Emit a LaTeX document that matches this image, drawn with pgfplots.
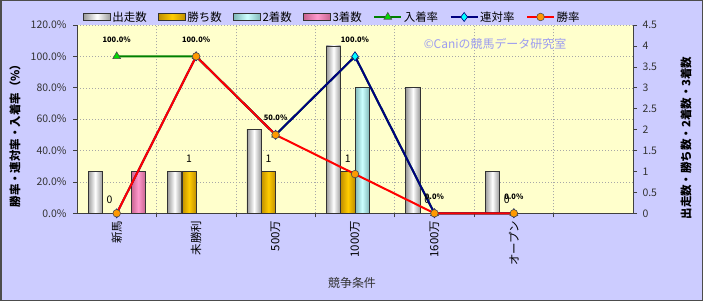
\documentclass[border=0pt]{standalone}
\usepackage{fontspec}
\setmainfont{Noto Sans CJK JP}
\usepackage{pgfplots}
\pgfplotsset{compat=1.18}
\definecolor{outerbg}{HTML}{CCCCFF}
\definecolor{plotbg}{HTML}{FFFFCC}
\definecolor{gridc}{HTML}{A8A8A8}
\definecolor{runE}{HTML}{9A9A9A}
\definecolor{winC}{HTML}{FFCC00}
\definecolor{winE}{HTML}{C08F00}
\definecolor{secC}{HTML}{CCFFFF}
\definecolor{secE}{HTML}{80B8B8}
\definecolor{thiC}{HTML}{FF99CC}
\definecolor{thiE}{HTML}{C8638F}
\definecolor{placeL}{HTML}{008000}
\definecolor{placeM}{HTML}{00DD00}
\definecolor{rentL}{HTML}{000080}
\definecolor{rentM}{HTML}{00FFFF}
\definecolor{winL}{HTML}{FF0000}
\definecolor{winM}{HTML}{FF9900}
\definecolor{wmark}{HTML}{9C9CF0}
\pgfplotsset{
  /pgf/number format/assume math mode=true,
  barleg/.style={legend image code/.code={\draw[##1] (0bp,-3.5bp) rectangle (27bp,3.5bp);}},
  lineleg/.style={legend image code/.code={\draw[mark repeat=2,mark phase=2,##1] plot coordinates {(0bp,0bp) (13.5bp,0bp) (27bp,0bp)};}},
  common/.style={at={(77bp,87.7bp)}, anchor=south west, scale only axis,
    width=556bp, height=188.3bp, xmin=-0.5, xmax=6.5},
  runsty/.style={draw=black!80, line width=0.7bp, left color=runE, right color=runE, middle color=white},
  winsty/.style={draw=black!80, line width=0.7bp, left color=winE, right color=winE, middle color=winC},
  secsty/.style={draw=black!80, line width=0.7bp, left color=secE, right color=secE, middle color=secC},
  thisty/.style={draw=black!80, line width=0.7bp, left color=thiE, right color=thiE, middle color=thiC},
  runbar/.style={ybar, bar width=0.18, bar shift=-0.271, runsty},
  winbar/.style={ybar, bar width=0.18, bar shift=-0.090, winsty},
  secbar/.style={ybar, bar width=0.18, bar shift=0.090, secsty},
  thibar/.style={ybar, bar width=0.18, bar shift=0.271, thisty},
}
\begin{document}
\begin{tikzpicture}[x=1bp,y=1bp]
\useasboundingbox (0,0) rectangle (703,301);
\fill[outerbg] (0,0) rectangle (703,301);

% axis A: background, grid, left axis, category axis
\begin{axis}[common,
  ymin=0, ymax=120,
  axis background/.style={fill=plotbg},
  axis x line*=bottom, axis y line*=left,
  axis line style={draw=black!75, line width=0.8bp},
  tick align=outside, major tick length=4bp, minor tick length=4bp,
  tick style={draw=black!75, line width=0.6bp},
  xtick={0,1,2,3,4,5},
  xticklabels={新馬,未勝利,500万,1000万,1600万,オープン},
  major x tick style={draw=none},
  minor xtick={0.5,1.5,2.5,3.5,4.5,5.5},
  xminorgrids,
  minor x grid style={draw=gridc, line width=0.5bp, dash pattern=on 1bp off 2bp},
  ytick={0,20,40,60,80,100,120},
  ymajorgrids,
  major y grid style={draw=gridc, line width=0.5bp, dash pattern=on 1bp off 2bp},
  yticklabel={\pgfmathprintnumber[fixed,fixed zerofill,precision=1]{\tick}\%},
  y tick label style={font=\fontsize{10.5}{12}\selectfont, text=black!80, xshift=-3bp},
  x tick label style={font=\fontsize{11.5}{13}\selectfont, rotate=90, anchor=east, text=black},
]
\addplot[draw=none] coordinates {(0,0)};
\end{axis}

\node[text=wmark, font=\fontsize{12}{14}\selectfont] at (495,257) {©Caniの競馬データ研究室};

% axis B: bars on the right axis (one plot per bar, so each bar is shaded on its own)
\begin{axis}[common,
  ymin=0, ymax=4.5,
  axis x line=none, axis y line*=right,
  axis line style={draw=black!75, line width=0.8bp},
  tick align=outside, major tick length=4bp,
  tick style={draw=black!75, line width=0.6bp},
  ytick={0,0.5,1,1.5,2,2.5,3,3.5,4,4.5},
  yticklabels={0,0.5,1,1.5,2,2.5,3,3.5,4,4.5},
  y tick label style={font=\fontsize{10.5}{12}\selectfont, text=black!80, xshift=2bp},
]
% 出走数
\addplot[runbar] coordinates {(0,1)};
\addplot[runbar] coordinates {(1,1)};
\addplot[runbar] coordinates {(2,2)};
\addplot[runbar] coordinates {(3,4)};
\addplot[runbar] coordinates {(4,3)};
\addplot[runbar] coordinates {(5,1)};
% 勝ち数 (新馬, 1600万, オープン: 0)
\addplot[winbar] coordinates {(1,1)};
\addplot[winbar] coordinates {(2,1)};
\addplot[winbar] coordinates {(3,1)};
% 2着数
\addplot[secbar] coordinates {(3,3)};
% 3着数
\addplot[thibar] coordinates {(0,1)};
% 勝ち数 labels
\addplot[only marks, mark=none, nodes near coords,
  every node near coord/.append style={font=\fontsize{10.5}{12}\selectfont, text=black, inner sep=0pt, anchor=south, yshift=9bp}]
  coordinates {(-0.09,0) (0.91,1) (1.91,1) (2.91,1) (3.91,0) (4.91,0)};
\end{axis}

% axis C: rate lines on the left axis, legend
\begin{axis}[common,
  ymin=0, ymax=120, hide axis, clip=false,
  legend style={at={(0.0108,1.0425)}, anchor=west, draw=none, fill=none,
    inner sep=0pt, font=\fontsize{11.5}{13}\selectfont, legend columns=-1,
    nodes={inner sep=1.5bp},
    /tikz/every even column/.append style={column sep=10bp}},
]
\addlegendimage{barleg, runsty}
\addlegendentry{出走数}
\addlegendimage{barleg, winsty}
\addlegendentry{勝ち数}
\addlegendimage{barleg, secsty}
\addlegendentry{2着数}
\addlegendimage{barleg, thisty}
\addlegendentry{3着数}
% 入着率
\addplot[lineleg, draw=placeL, line width=2bp, mark=triangle*, mark size=4.5bp,
  mark options={fill=placeM, draw=black!70, line width=0.6bp},
  nodes near coords={\pgfmathprintnumber[fixed,fixed zerofill,precision=1]{\pgfplotspointmeta}\%},
  every node near coord/.append style={font=\fontsize{7.5}{9}\selectfont\bfseries, text=black, inner sep=0pt, anchor=south, yshift=13.5bp}]
  coordinates {(0,100) (1,100) (2,50) (3,100) (4,0) (5,0)};
\addlegendentry{入着率}
% 連対率
\addplot[lineleg, draw=rentL, line width=2bp, mark=diamond*, mark size=4.5bp,
  mark options={fill=rentM, draw=rentL, line width=0.6bp}]
  coordinates {(0,0) (1,100) (2,50) (3,100) (4,0) (5,0)};
\addlegendentry{連対率}
% 勝率
\addplot[lineleg, draw=winL, line width=2bp, mark=*, mark size=3.8bp,
  mark options={fill=winM, draw=black!70, line width=0.6bp}]
  coordinates {(0,0) (1,100) (2,50) (3,25) (4,0) (5,0)};
\addlegendentry{勝率}
\end{axis}

\node[rotate=90, font=\fontsize{11.5}{13}\selectfont\bfseries] at (15,168) {勝率・連対率・入着率（\%）};
\node[rotate=90, font=\fontsize{11.5}{13}\selectfont\bfseries] at (686,163) {出走数・勝ち数・2着数・3着数};
\node[font=\fontsize{12}{14}\selectfont, text=black!80] at (352,18) {競争条件};
\draw[black!70, line width=1.5bp] (0.75,0.75) rectangle (702.25,300.25);
\end{tikzpicture}
\end{document}
